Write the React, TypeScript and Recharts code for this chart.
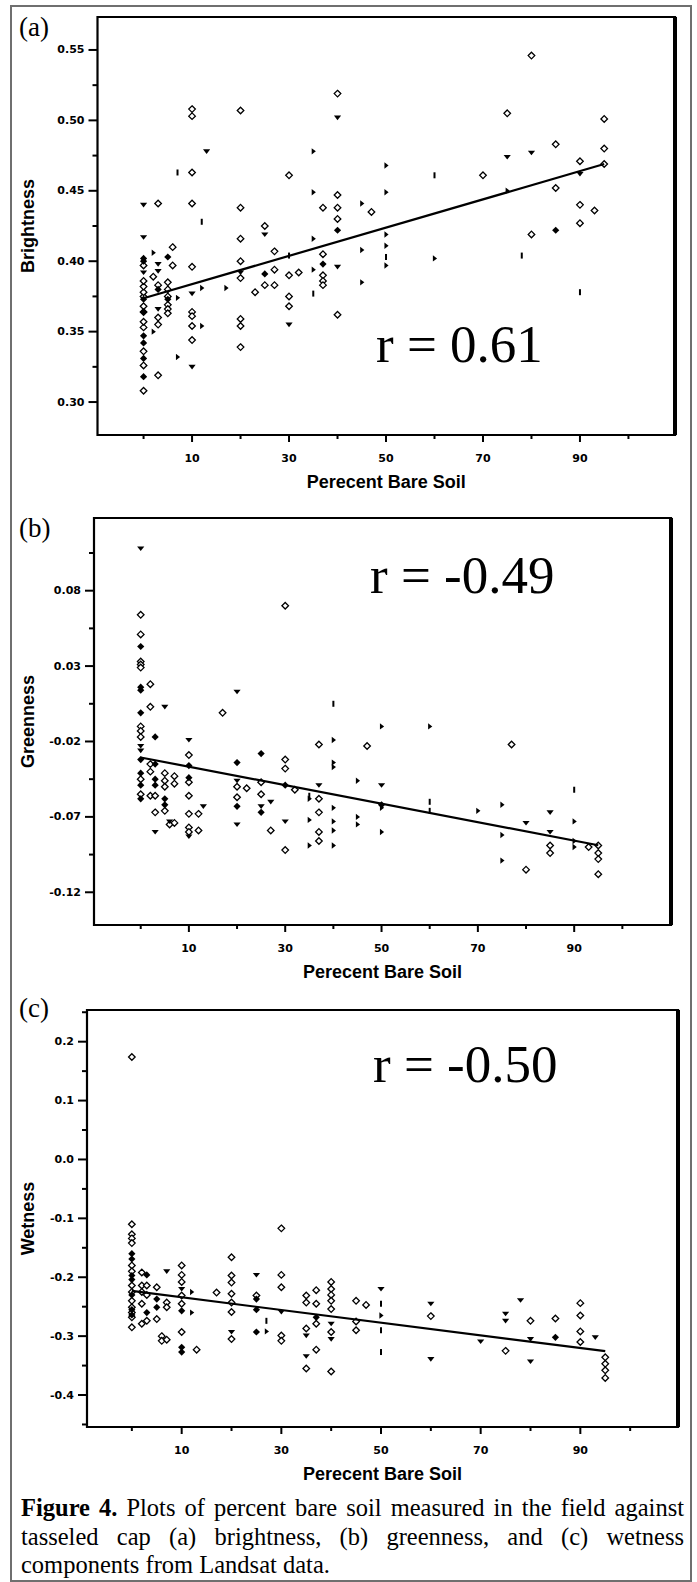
import { ScatterChart, Scatter, XAxis, YAxis, ReferenceArea, ReferenceLine } from 'recharts';

type Pt = { x: number; y: number };
// one column of readings at a given percent bare soil
const at = (x: number, ys: number[]): Pt[] => ys.map((y) => ({ x, y }));

const pctTicks = [0, 10, 20, 30, 40, 50, 60, 70, 80, 90, 100];
const pctLabelled = [10, 30, 50, 70, 90];

// (a) brightness
const brightTicks = [0.3, 0.325, 0.35, 0.375, 0.4, 0.425, 0.45, 0.475, 0.5, 0.525, 0.55];
const brightLabelled = [0.3, 0.35, 0.4, 0.45, 0.5, 0.55];
const brightOpen: Pt[] = [
  ...at(0, [0.308, 0.326, 0.336, 0.353, 0.357, 0.364, 0.368, 0.375, 0.378, 0.382, 0.386, 0.397]),
  ...at(2, [0.389]),
  ...at(3, [0.441, 0.383, 0.36, 0.355, 0.319]),
  ...at(5, [0.385, 0.38, 0.375, 0.369, 0.366, 0.363]),
  ...at(6, [0.41, 0.397]),
  ...at(10, [0.508, 0.503, 0.463, 0.441, 0.396, 0.364, 0.361, 0.354, 0.344]),
  ...at(20, [0.507, 0.438, 0.416, 0.4, 0.388, 0.359, 0.354, 0.339]),
  ...at(23, [0.378]),
  ...at(25, [0.425, 0.383]),
  ...at(27, [0.407, 0.394, 0.383]),
  ...at(30, [0.461, 0.39, 0.375, 0.368]),
  ...at(32, [0.392]),
  ...at(37, [0.438, 0.405, 0.39, 0.386, 0.383]),
  ...at(40, [0.519, 0.447, 0.438, 0.43, 0.362]),
  ...at(47, [0.435]),
  ...at(70, [0.461]),
  ...at(75, [0.505]),
  ...at(80, [0.546, 0.419]),
  ...at(85, [0.483, 0.452]),
  ...at(90, [0.471, 0.44, 0.427]),
  ...at(93, [0.436]),
  ...at(95, [0.501, 0.48, 0.469]),
];
const brightFilled: Pt[] = [
  ...at(0, [0.318, 0.331, 0.342, 0.347, 0.364, 0.373, 0.4, 0.402]),
  ...at(3, [0.38]),
  ...at(5, [0.403, 0.373]),
  ...at(25, [0.391]),
  ...at(37, [0.398]),
  ...at(40, [0.422]),
  ...at(85, [0.422]),
];
const brightDown: Pt[] = [
  ...at(0, [0.392, 0.417, 0.44]),
  ...at(3, [0.398, 0.393, 0.366]),
  ...at(10, [0.377, 0.325]),
  ...at(13, [0.478]),
  ...at(20, [0.392]),
  ...at(25, [0.419]),
  ...at(30, [0.355]),
  ...at(40, [0.502, 0.396]),
  ...at(75, [0.474]),
  ...at(80, [0.477]),
  ...at(90, [0.462]),
];
const brightRight: Pt[] = [
  ...at(2, [0.406, 0.35]),
  ...at(7, [0.374, 0.332]),
  ...at(12, [0.381, 0.354]),
  ...at(17, [0.381]),
  ...at(35, [0.478, 0.449, 0.416, 0.394]),
  ...at(45, [0.441, 0.408, 0.385]),
  ...at(50, [0.468, 0.449, 0.419, 0.411, 0.397]),
  ...at(60, [0.402]),
  ...at(75, [0.45]),
];
const brightDash: Pt[] = [
  ...at(7, [0.463]),
  ...at(12, [0.428]),
  ...at(30, [0.404]),
  ...at(35, [0.377]),
  ...at(50, [0.403]),
  ...at(60, [0.461]),
  ...at(78, [0.404]),
  ...at(90, [0.378]),
];
const brightFit: Pt[] = [{ x: 0, y: 0.3737 }, { x: 95, y: 0.469 }];

// (b) greenness
const greenTicks = [-0.12, -0.095, -0.07, -0.045, -0.02, 0.005, 0.03, 0.055, 0.08, 0.105];
const greenLabelled = [-0.12, -0.07, -0.02, 0.03, 0.08];
const greenOpen: Pt[] = [
  ...at(0, [0.064, 0.051, 0.033, 0.031, 0.029, -0.01, -0.013, -0.017, -0.045, -0.055]),
  ...at(2, [0.018, 0.003, -0.035, -0.04, -0.056]),
  ...at(3, [-0.056, -0.067]),
  ...at(5, [-0.041, -0.046, -0.05, -0.066]),
  ...at(6, [-0.075]),
  ...at(7, [-0.043, -0.048, -0.074]),
  ...at(10, [-0.029, -0.047, -0.056, -0.068, -0.077, -0.08]),
  ...at(12, [-0.068, -0.079]),
  ...at(17, [-0.001]),
  ...at(20, [-0.05, -0.057]),
  ...at(22, [-0.051]),
  ...at(25, [-0.047, -0.055]),
  ...at(27, [-0.079]),
  ...at(30, [0.07, -0.032, -0.038, -0.092]),
  ...at(32, [-0.052]),
  ...at(37, [-0.022, -0.058, -0.067, -0.08, -0.086]),
  ...at(47, [-0.023]),
  ...at(77, [-0.022]),
  ...at(80, [-0.105]),
  ...at(85, [-0.089, -0.094]),
  ...at(93, [-0.09]),
  ...at(95, [-0.089, -0.094, -0.098, -0.108]),
];
const greenFilled: Pt[] = [
  ...at(0, [0.043, 0.016, 0.014, -0.001, -0.032, -0.041, -0.049, -0.058]),
  ...at(3, [-0.017, -0.035, -0.045, -0.049]),
  ...at(5, [-0.058, -0.062]),
  ...at(10, [-0.036, -0.044]),
  ...at(20, [-0.034, -0.063]),
  ...at(25, [-0.028, -0.067]),
  ...at(30, [-0.049]),
  ...at(50, [-0.062]),
];
const greenDown: Pt[] = [
  ...at(0, [0.108, -0.023, -0.026]),
  ...at(3, [-0.08]),
  ...at(5, [0.003]),
  ...at(6, [-0.073]),
  ...at(10, [-0.019, -0.083]),
  ...at(13, [-0.063]),
  ...at(20, [0.013, -0.046, -0.075]),
  ...at(25, [-0.063]),
  ...at(27, [-0.06]),
  ...at(30, [-0.073]),
  ...at(37, [-0.049]),
  ...at(50, [-0.049]),
  ...at(80, [-0.074]),
  ...at(85, [-0.067, -0.08]),
];
const greenRight: Pt[] = [
  ...at(35, [-0.058, -0.072, -0.089]),
  ...at(40, [-0.019, -0.034, -0.037, -0.064, -0.073, -0.079, -0.089]),
  ...at(45, [-0.046, -0.07, -0.075]),
  ...at(50, [-0.01, -0.064, -0.08]),
  ...at(60, [-0.01]),
  ...at(70, [-0.066]),
  ...at(75, [-0.062, -0.082, -0.099]),
  ...at(90, [-0.073, -0.086, -0.09]),
];
const greenDash: Pt[] = [
  ...at(35, [-0.056]),
  ...at(40, [0.005]),
  ...at(60, [-0.06, -0.066]),
  ...at(90, [-0.052]),
];
const greenFit: Pt[] = [{ x: 0, y: -0.0306 }, { x: 95, y: -0.0888 }];

// (c) wetness
const wetTicks = [-0.45, -0.4, -0.35, -0.3, -0.25, -0.2, -0.15, -0.1, -0.05, 0, 0.05, 0.1, 0.15, 0.2, 0.25];
const wetLabelled = [-0.4, -0.3, -0.2, -0.1, 0, 0.1, 0.2];
const wetOpen: Pt[] = [
  ...at(0, [0.174, -0.11, -0.127, -0.134, -0.142, -0.18, -0.19, -0.214, -0.225, -0.24, -0.251, -0.26, -0.268, -0.285]),
  ...at(2, [-0.192, -0.214, -0.225, -0.245, -0.279]),
  ...at(3, [-0.214, -0.23, -0.274]),
  ...at(5, [-0.217, -0.271]),
  ...at(6, [-0.3, -0.308]),
  ...at(7, [-0.243, -0.251, -0.306]),
  ...at(10, [-0.18, -0.196, -0.208, -0.231, -0.245, -0.293]),
  ...at(13, [-0.323]),
  ...at(17, [-0.226]),
  ...at(20, [-0.166, -0.197, -0.209, -0.228, -0.243, -0.259, -0.305]),
  ...at(25, [-0.231]),
  ...at(30, [-0.117, -0.196, -0.217, -0.299, -0.308]),
  ...at(35, [-0.231, -0.243, -0.287, -0.355]),
  ...at(37, [-0.222, -0.245, -0.279, -0.323]),
  ...at(40, [-0.208, -0.22, -0.23, -0.24, -0.254, -0.293, -0.36]),
  ...at(45, [-0.24, -0.275, -0.29]),
  ...at(47, [-0.247]),
  ...at(60, [-0.266]),
  ...at(75, [-0.325]),
  ...at(80, [-0.274]),
  ...at(85, [-0.27]),
  ...at(90, [-0.244, -0.265, -0.292, -0.31]),
  ...at(95, [-0.336, -0.347, -0.358, -0.371]),
];
const wetFilled: Pt[] = [
  ...at(0, [-0.16, -0.169, -0.197, -0.204, -0.23, -0.255, -0.264]),
  ...at(3, [-0.196, -0.26]),
  ...at(5, [-0.237, -0.251]),
  ...at(10, [-0.257, -0.319, -0.327]),
  ...at(25, [-0.237, -0.255, -0.293]),
  ...at(37, [-0.268]),
  ...at(85, [-0.302]),
];
const wetDown: Pt[] = [
  ...at(7, [-0.19]),
  ...at(10, [-0.22]),
  ...at(20, [-0.293]),
  ...at(25, [-0.196]),
  ...at(30, [-0.259]),
  ...at(35, [-0.299, -0.334]),
  ...at(40, [-0.279, -0.305]),
  ...at(50, [-0.22]),
  ...at(60, [-0.245, -0.339]),
  ...at(70, [-0.309]),
  ...at(75, [-0.262, -0.274]),
  ...at(78, [-0.239]),
  ...at(80, [-0.305, -0.343]),
  ...at(93, [-0.302]),
];
const wetRight: Pt[] = [
  ...at(12, [-0.225, -0.26]),
  ...at(27, [-0.292]),
  ...at(50, [-0.265]),
];
const wetDash: Pt[] = [
  ...at(27, [-0.274]),
  ...at(50, [-0.245, -0.29, -0.327]),
];
const wetFit: Pt[] = [{ x: 0, y: -0.2233 }, { x: 95, y: -0.3255 }];

const W = 697;
const tickFont = 'DejaVu Sans, sans-serif';
const sansFont = 'Liberation Sans, Arial, sans-serif';
const serifFont = 'Liberation Serif, Times New Roman, serif';

const Open = ({ cx, cy }: any) => (
  <path d={`M${cx} ${cy - 3.3}L${cx + 3.3} ${cy}L${cx} ${cy + 3.3}L${cx - 3.3} ${cy}Z`} fill="#fff" stroke="#000" strokeWidth={1.3} />
);
const Filled = ({ cx, cy }: any) => (
  <path d={`M${cx} ${cy - 3.6}L${cx + 3.6} ${cy}L${cx} ${cy + 3.6}L${cx - 3.6} ${cy}Z`} fill="#000" />
);
const Down = ({ cx, cy }: any) => (
  <path d={`M${cx - 3.6} ${cy - 2}L${cx + 3.6} ${cy - 2}L${cx} ${cy + 2.6}Z`} fill="#000" />
);
const Right = ({ cx, cy }: any) => (
  <path d={`M${cx - 1.6} ${cy - 3.2}L${cx + 2.6} ${cy}L${cx - 1.6} ${cy + 3.2}Z`} fill="#000" />
);
const Dash = ({ cx, cy }: any) => <rect x={cx - 1} y={cy - 3} width={2} height={6} fill="#000" />;
const Nothing = () => <g />;

type Frame = { l: number; r: number; t: number; b: number };
type PanelProps = {
  top: number;
  frame: Frame;
  xDomain: [number, number];
  yDomain: [number, number];
  yTicks: number[];
  yLabelled: number[];
  digits: number;
  title: string;
  open: Pt[];
  filled: Pt[];
  down: Pt[];
  right: Pt[];
  dash: Pt[];
  fit: Pt[];
};

function Panel(p: PanelProps) {
  const axisH = 58;
  const height = p.frame.b - p.top + axisH;
  const midY = (p.frame.t + p.frame.b) / 2 - p.top;
  const midX = (p.frame.l + p.frame.r) / 2;

  const xTick = ({ x, y, payload }: any) => {
    const v = payload.value;
    const major = pctLabelled.includes(v);
    return (
      <g>
        <line x1={x} x2={x} y1={y} y2={y + (major ? 7 : 4)} stroke="#000" strokeWidth={2} />
        {major && (
          <text x={x} y={y + 23} textAnchor="middle" dominantBaseline="central" fontFamily={tickFont} fontWeight="bold" fontSize={11} fill="#000">
            {v}
          </text>
        )}
      </g>
    );
  };

  const yTick = ({ x, y, payload }: any) => {
    const v = payload.value;
    const major = p.yLabelled.some((m) => Math.abs(m - v) < 1e-6);
    return (
      <g>
        <line x1={x - (major ? 9 : 5)} x2={x} y1={y} y2={y} stroke="#000" strokeWidth={2} />
        {major && (
          <text x={x - 13} y={y} textAnchor="end" dominantBaseline="central" fontFamily={tickFont} fontWeight="bold" fontSize={11} fill="#000">
            {v.toFixed(p.digits)}
          </text>
        )}
      </g>
    );
  };

  return (
    <div style={{ position: 'absolute', left: 0, top: p.top }}>
      <ScatterChart width={W} height={height} margin={{ top: p.frame.t - p.top, right: W - p.frame.r, bottom: 0, left: 0 }}>
        <XAxis
          type="number"
          dataKey="x"
          domain={p.xDomain}
          ticks={pctTicks}
          interval={0}
          allowDataOverflow
          axisLine={false}
          tickLine={false}
          tickSize={0}
          tickMargin={0}
          height={axisH}
          tick={xTick}
          label={() => (
            <text x={midX} y={p.frame.b - p.top + 47} textAnchor="middle" dominantBaseline="central" fontFamily={sansFont} fontWeight="bold" fontSize={18} fill="#000">
              Perecent Bare Soil
            </text>
          )}
        />
        <YAxis
          type="number"
          dataKey="y"
          domain={p.yDomain}
          ticks={p.yTicks}
          interval={0}
          allowDataOverflow
          axisLine={false}
          tickLine={false}
          tickSize={0}
          tickMargin={0}
          width={p.frame.l}
          tick={yTick}
          label={() => (
            <text x={28} y={midY} transform={`rotate(-90 28 ${midY})`} textAnchor="middle" dominantBaseline="central" fontFamily={sansFont} fontWeight="bold" fontSize={18} fill="#000">
              {p.title}
            </text>
          )}
        />
        <Scatter data={p.open} shape={Open} isAnimationActive={false} />
        <Scatter data={p.filled} shape={Filled} isAnimationActive={false} />
        <Scatter data={p.down} shape={Down} isAnimationActive={false} />
        <Scatter data={p.right} shape={Right} isAnimationActive={false} />
        <Scatter data={p.dash} shape={Dash} isAnimationActive={false} />
        <Scatter data={p.fit} shape={Nothing} line={{ stroke: '#000', strokeWidth: 2.2 }} isAnimationActive={false} />
        <ReferenceArea
          x1={p.xDomain[0]}
          x2={p.xDomain[1]}
          y1={p.yDomain[0]}
          y2={p.yDomain[1]}
          fill="none"
          fillOpacity={0}
          stroke="#000"
          strokeWidth={2.2}
          ifOverflow="visible"
        />
        <ReferenceLine x={p.xDomain[1]} stroke="#000" strokeWidth={4} ifOverflow="visible" />
      </ScatterChart>
    </div>
  );
}

const captionStyle = {
  position: 'absolute' as const,
  left: 21,
  width: 663,
  fontFamily: serifFont,
  fontSize: 24.5,
  lineHeight: '28.5px',
  textAlign: 'justify' as const,
  color: '#000',
};

export default function App() {
  return (
    <div style={{ position: 'absolute', left: 0, top: 0, width: W, height: 1582, background: '#fff' }}>
      <div
        style={{
          position: 'absolute',
          left: 10,
          top: 5,
          width: 682,
          height: 1577,
          border: '2px solid #6f6f6f',
          boxSizing: 'border-box',
        }}
      />
      <Panel
        top={0}
        frame={{ l: 97.5, r: 675, t: 17, b: 435 }}
        xDomain={[-9.5, 109.6]}
        yDomain={[0.2766, 0.5734]}
        yTicks={brightTicks}
        yLabelled={brightLabelled}
        digits={2}
        title="Brightness"
        open={brightOpen}
        filled={brightFilled}
        down={brightDown}
        right={brightRight}
        dash={brightDash}
        fit={brightFit}
      />
      <Panel
        top={490}
        frame={{ l: 94, r: 671, t: 518, b: 925 }}
        xDomain={[-9.7, 110.1]}
        yDomain={[-0.1417, 0.1282]}
        yTicks={greenTicks}
        yLabelled={greenLabelled}
        digits={2}
        title="Greenness"
        open={greenOpen}
        filled={greenFilled}
        down={greenDown}
        right={greenRight}
        dash={greenDash}
        fit={greenFit}
      />
      <Panel
        top={985}
        frame={{ l: 87, r: 678, t: 1010, b: 1427 }}
        xDomain={[-9.0, 109.6]}
        yDomain={[-0.4543, 0.2538]}
        yTicks={wetTicks}
        yLabelled={wetLabelled}
        digits={1}
        title="Wetness"
        open={wetOpen}
        filled={wetFilled}
        down={wetDown}
        right={wetRight}
        dash={wetDash}
        fit={wetFit}
      />
      <svg width={W} height={1582} style={{ position: 'absolute', left: 0, top: 0, pointerEvents: 'none' }}>
        <g fontFamily={serifFont} fill="#000">
          <text x={19} y={36} fontSize={27}>(a)</text>
          <text x={19} y={537} fontSize={27}>(b)</text>
          <text x={19} y={1017} fontSize={27}>(c)</text>
          <text x={376} y={362} fontSize={53}>r = 0.61</text>
          <text x={370} y={593} fontSize={53}>r = -0.49</text>
          <text x={373} y={1082} fontSize={53}>r = -0.50</text>
        </g>
      </svg>
      <div style={{ ...captionStyle, top: 1494, textAlignLast: 'justify' as const }}>
        <span style={{ fontWeight: 'bold' }}>Figure 4.</span>
        <span> Plots of percent bare soil measured in the field against</span>
      </div>
      <div style={{ ...captionStyle, top: 1522.5 }}>
        tasseled cap (a) brightness, (b) greenness, and (c) wetness components from Landsat data.
      </div>
    </div>
  );
}
